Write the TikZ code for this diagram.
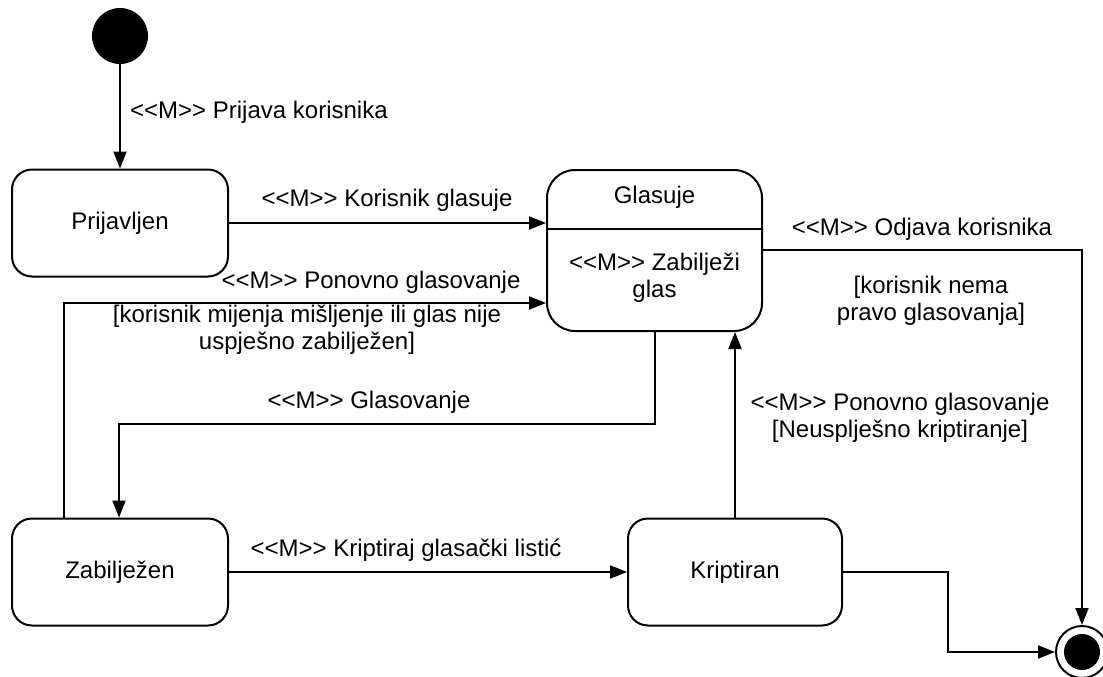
\documentclass[tikz,border=0pt]{standalone}
\usepackage{fontspec}
\setmainfont{Liberation Sans}
\usetikzlibrary{arrows.meta}
\newcommand{\mst}{<{}<M>{}>}

\tikzset{
  stanje/.style={draw, line width=2pt, rounded corners=20pt, minimum width=216pt, minimum height=107pt, inner sep=0pt},
  prijelaz/.style={line width=2pt, -{Triangle[length=17pt,width=13pt]}},
  oznaka/.style={inner sep=0pt, align=center},
}

\begin{document}
\begin{tikzpicture}[x=1pt, y=-1pt, font=\fontsize{24}{27}\selectfont]
    \useasboundingbox (0,0) rectangle (1103,677);
    % stanja
    \node[circle, fill, minimum size=56pt, inner sep=0pt] (pocetak) at (120,36) {};
    \node[stanje] (prijavljen) at (120,223) {Prijavljen};
    \node[stanje, rounded corners=28pt, minimum width=215pt, minimum height=161pt] (glasuje) at (654.5,250.5) {};
    \node[oznaka] (glasujeime) at (654.5,197) {Glasuje};
    \node[oznaka] (glasujeakcija) at (654.5,278) {\mst{} Zabilježi\\glas};
    \coordinate (pregrada) at (654.5,229);
    \draw[line width=2pt] (glasuje.west |- pregrada) -- (glasuje.east |- pregrada);
    \node[stanje] (zabiljezen) at (120,572) {Zabilježen};
    \node[stanje, minimum width=214pt] (kriptiran) at (735,572) {Kriptiran};
    \node[circle, draw, line width=2pt, minimum size=52pt, inner sep=0pt] (kraj) at (1082,652) {};
    \node[circle, fill, minimum size=36pt, inner sep=0pt] (krajjezgra) at (kraj) {};
    % tocke skretanja
    \coordinate (lijevo) at (64,303);
    \coordinate (dolje) at (655,424);
    \coordinate (dolje2) at (119,424);
    \coordinate (desno) at (1082,250);
    \coordinate (skretanje) at (948,572);
    % prijelazi
    \draw[prijelaz] (pocetak) -- (prijavljen);
    \draw[prijelaz] (prijavljen) -- (glasuje.west |- prijavljen);
    \draw[prijelaz] (zabiljezen.north -| lijevo) -- (lijevo) -- (glasuje.west |- lijevo);
    \draw[prijelaz] (glasuje.south -| dolje) -- (dolje) -- (dolje2) -- (zabiljezen.north -| dolje2);
    \draw[prijelaz] (zabiljezen) -- (kriptiran);
    \draw[prijelaz] (kriptiran) -- (glasuje.south -| kriptiran);
    \draw[prijelaz] (glasuje.east |- desno) -- (desno) -- (kraj);
    \draw[prijelaz] (kriptiran) -- (skretanje) |- (kraj.west);
    % oznake
    \node[oznaka, anchor=west] (l1) at (130,112) {\mst{} Prijava korisnika};
    \node[oznaka] (l2) at (387,200) {\mst{} Korisnik glasuje};
    \node[oznaka] (l3) at (371,282) {\mst{} Ponovno glasovanje};
    \node[oznaka] (l4) at (307,330) {{[}korisnik mijenja mišljenje ili glas nije\\uspješno zabilježen{]}};
    \node[oznaka] (l5) at (369,402) {\mst{} Glasovanje};
    \node[oznaka] (l6) at (406,550) {\mst{} Kriptiraj glasački listić};
    \node[oznaka] (l7) at (900,418) {\mst{} Ponovno glasovanje\\{[}Neusplješno kriptiranje{]}};
    \node[oznaka] (l8) at (922,229) {\mst{} Odjava korisnika};
    \node[oznaka] (l9) at (931,301) {{[}korisnik nema\\pravo glasovanja{]}};
\end{tikzpicture}
\end{document}
